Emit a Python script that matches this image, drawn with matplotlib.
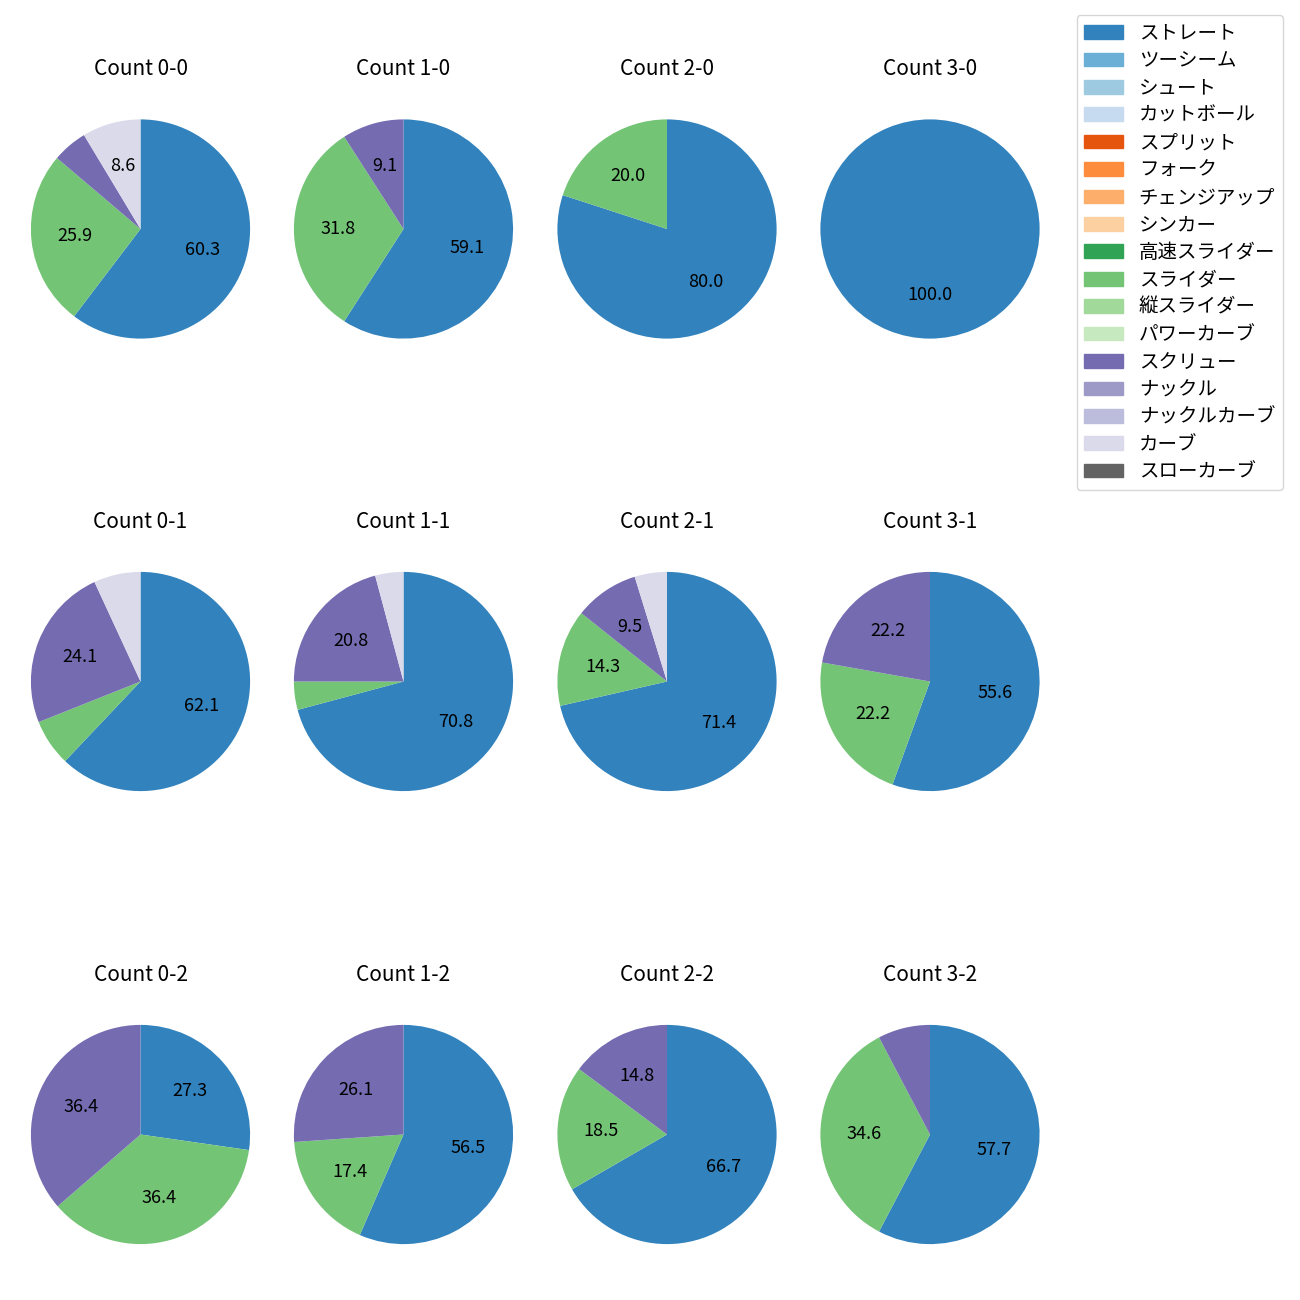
import matplotlib
matplotlib.use("Agg")
import matplotlib.pyplot as plt
import matplotlib.patches as mpatches

plt.rcParams['font.family'] = ['Noto Sans CJK JP', 'DejaVu Sans']
plt.rcParams['font.size'] = 14

# pitch types (legend order) -> tab20c colours
pitch_types = ['ストレート', 'ツーシーム', 'シュート', 'カットボール', 'スプリット', 'フォーク',
               'チェンジアップ', 'シンカー', '高速スライダー', 'スライダー', '縦スライダー',
               'パワーカーブ', 'スクリュー', 'ナックル', 'ナックルカーブ', 'カーブ', 'スローカーブ']

count_labels = ['0-0', '1-0', '2-0', '3-0',
                '0-1', '1-1', '2-1', '3-1',
                '0-2', '1-2', '2-2', '3-2']

# number of pitches per count (same order as count_labels)
straight = [35, 13, 4, 1, 18, 17, 15, 5, 3, 13, 18, 15]
slider   = [15, 7, 1, 0, 2, 1, 3, 2, 4, 4, 5, 9]
screw    = [3, 2, 0, 0, 7, 5, 2, 2, 4, 6, 4, 2]
curve    = [5, 0, 0, 0, 2, 1, 1, 0, 0, 0, 0, 0]

series = {'ストレート': straight, 'スライダー': slider, 'スクリュー': screw, 'カーブ': curve}

cmap = plt.get_cmap('tab20c')
colors = {name: cmap(i) for i, name in enumerate(pitch_types)}

fig = plt.figure(figsize=(13, 13), dpi=100)

W = 1300.0
side = 274.0
col_x = [140.5, 403.5, 667, 930]
row_y = [229, 681.5, 1134.5]


def fmt(p):
    return f'{p:.1f}' if p >= 8 else ''


for k, lab in enumerate(count_labels):
    r, c = divmod(k, 4)
    cx, cy = col_x[c], row_y[r]
    ax = fig.add_axes([(cx - side / 2) / W, 1 - (cy + side / 2) / W, side / W, side / W])
    vals, cols = [], []
    for name in pitch_types:
        if name in series and series[name][k] > 0:
            vals.append(series[name][k])
            cols.append(colors[name])
    ax.pie(vals, colors=cols, startangle=90, counterclock=False, autopct=fmt,
           textprops={'fontsize': 13})
    ax.set_title('Count ' + lab, fontsize=15, pad=12)

handles = [mpatches.Patch(color=colors[n], label=n) for n in pitch_types]
fig.legend(handles=handles, loc='upper right', bbox_to_anchor=(1283 / W, 1 - 15 / W),
           borderaxespad=0, fontsize=14, labelspacing=0.33)

fig.savefig('out.png')
